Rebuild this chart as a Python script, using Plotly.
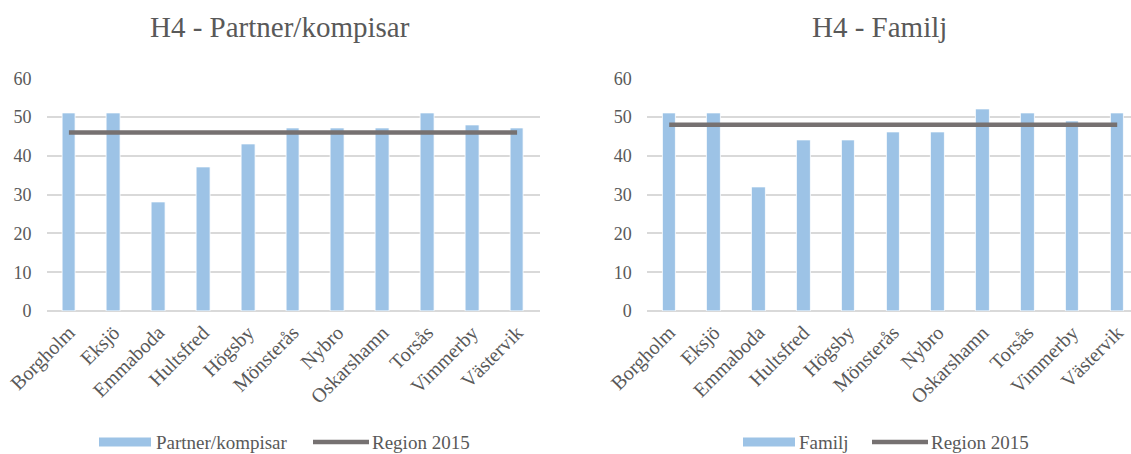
import plotly.graph_objects as go

W, H = 1131, 454

categories = ["Borgholm", "Eksjö", "Emmaboda", "Hultsfred", "Högsby", "Mönsterås",
              "Nybro", "Oskarshamn", "Torsås", "Vimmerby", "Västervik"]
partner_values = [51, 51, 28, 37, 43, 47, 47, 47, 51, 48, 47]
partner_region = [46, 46, 46, 46, 46, 46, 46, 46, 46, 46, 46]
familj_values = [51, 51, 32, 44, 44, 46, 46, 52, 51, 49, 51]
familj_region = [48, 48, 48, 48, 48, 48, 48, 48, 48, 48, 48]
y_ticks = [0, 10, 20, 30, 40, 50, 60]

titles = ["H4 - Partner/kompisar", "H4 - Familj"]
bar_names = ["Partner/kompisar", "Familj"]
line_name = "Region 2015"

BAR_COLOR = "#9DC3E6"
LINE_COLOR = "#767171"
GRID = "#D9D9D9"
TEXT = "#595959"
FONT = "Liberation Serif"

def px(x):
    return x / W

def py(y):
    return (H - y) / H

fig = go.Figure()

fig.add_trace(go.Bar(x=categories, y=partner_values, name=bar_names[0], width=0.305,
                     marker=dict(color=BAR_COLOR, line=dict(color="white", width=0.8)),
                     xaxis="x", yaxis="y", showlegend=False))
fig.add_trace(go.Scatter(x=categories, y=partner_region, name=line_name, mode="lines",
                         line=dict(color=LINE_COLOR, width=4.5),
                         xaxis="x", yaxis="y", showlegend=False))
fig.add_trace(go.Bar(x=categories, y=familj_values, name=bar_names[1], width=0.305,
                     marker=dict(color=BAR_COLOR, line=dict(color="white", width=0.8)),
                     xaxis="x2", yaxis="y2", showlegend=False))
fig.add_trace(go.Scatter(x=categories, y=familj_region, name=line_name, mode="lines",
                         line=dict(color=LINE_COLOR, width=4.5),
                         xaxis="x2", yaxis="y2", showlegend=False))

ydom = [py(311), py(78.3)]
xaxis_common = dict(tickangle=-45, tickfont=dict(family=FONT, size=20, color=TEXT),
                    showgrid=False, showline=False, zeroline=False, ticks="",
                    ticklabelstandoff=5,
                    type="category", fixedrange=True, automargin=False)
yaxis_common = dict(range=[0, 60], tickvals=y_ticks, showgrid=True, gridcolor=GRID,
                    gridwidth=1.6, zeroline=True, zerolinecolor=GRID, zerolinewidth=1.6,
                    showline=False, ticks="", ticklabelstandoff=14, automargin=False,
                    fixedrange=True,
                    tickfont=dict(family=FONT, size=18, color=TEXT))

n = len(categories)
fig.update_layout(
    template="none",
    width=W, height=H,
    margin=dict(l=0, r=0, t=0, b=0),
    paper_bgcolor="white", plot_bgcolor="white",
    bargap=0,
    xaxis=dict(domain=[px(46.5), px(539.5)], range=[-0.5, n - 0.5], anchor="y", **xaxis_common),
    yaxis=dict(domain=ydom, anchor="x", **yaxis_common),
    xaxis2=dict(domain=[px(646.8), 1.0], range=[-0.5, n - 0.5 - (1139.6 - 1131) / 44.8],
                anchor="y2", **xaxis_common),
    yaxis2=dict(domain=ydom, anchor="x2", **yaxis_common),
)

# Titles
for t, cx in zip(titles, [280, 879]):
    fig.add_annotation(text=t, x=px(cx), y=py(27), xref="paper", yref="paper",
                       xanchor="center", yanchor="middle", showarrow=False,
                       font=dict(family=FONT, size=29, color=TEXT))

# Legends (drawn manually to match wide swatches)
legend_y = 442
legends = [
    dict(rect=(99, 151), label1=bar_names[0], t1x=154, line=(313, 369), t2x=370),
    dict(rect=(743, 795), label1=bar_names[1], t1x=797, line=(872, 928), t2x=929),
]
for lg in legends:
    fig.add_shape(type="rect", xref="paper", yref="paper",
                  x0=px(lg["rect"][0]), x1=px(lg["rect"][1]),
                  y0=py(legend_y + 4.6), y1=py(legend_y - 4.6),
                  fillcolor=BAR_COLOR, line=dict(width=0))
    fig.add_annotation(text=lg["label1"], x=px(lg["t1x"]), y=py(legend_y), xref="paper",
                       yref="paper", xanchor="left", yanchor="middle", showarrow=False,
                       font=dict(family=FONT, size=19, color=TEXT))
    fig.add_shape(type="line", xref="paper", yref="paper",
                  x0=px(lg["line"][0]), x1=px(lg["line"][1]),
                  y0=py(legend_y), y1=py(legend_y),
                  line=dict(color=LINE_COLOR, width=4.5))
    fig.add_annotation(text=line_name, x=px(lg["t2x"]), y=py(legend_y), xref="paper",
                       yref="paper", xanchor="left", yanchor="middle", showarrow=False,
                       font=dict(family=FONT, size=19, color=TEXT))

fig.write_html("out.html", config={"displayModeBar": False},
               post_script="document.body.style.margin='0';document.body.style.overflow='hidden';")
